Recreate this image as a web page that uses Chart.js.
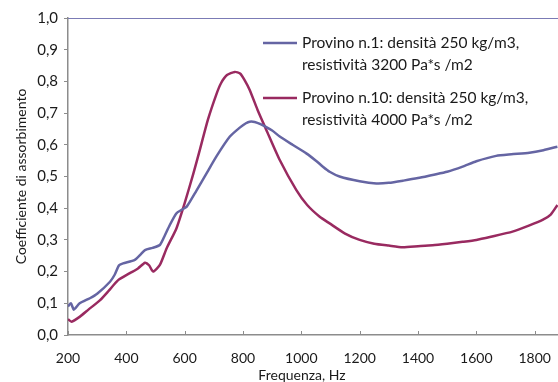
<!DOCTYPE html>
<html>
<head>
<meta charset="utf-8">
<script src="https://cdn.jsdelivr.net/npm/chart.js@4.4.1/dist/chart.umd.min.js"></script>
<style>
  html, body { margin: 0; padding: 0; background: #fff; }
</style>
</head>
<body>
<canvas id="chart" width="558" height="382"></canvas>
<script>
// Provino n.1 (blue)
const freq1 = [200, 210, 220, 240, 275, 300, 344, 360, 375, 389, 429, 450, 464, 490, 515, 530, 549, 572, 590, 607, 640, 675, 710, 755, 790, 810, 823, 840, 860, 900, 926, 970, 1017, 1050, 1074, 1097, 1131, 1200, 1257, 1300, 1350, 1400, 1450, 1500, 1553, 1600, 1668, 1720, 1782, 1830, 1878];
const provino1 = [0.09, 0.10, 0.08, 0.10, 0.116, 0.13, 0.168, 0.19, 0.22, 0.226, 0.237, 0.255, 0.268, 0.275, 0.284, 0.31, 0.347, 0.384, 0.395, 0.405, 0.455, 0.51, 0.565, 0.626, 0.655, 0.668, 0.673, 0.672, 0.665, 0.645, 0.626, 0.60, 0.573, 0.55, 0.531, 0.515, 0.50, 0.485, 0.478, 0.48, 0.487, 0.495, 0.505, 0.515, 0.531, 0.548, 0.565, 0.57, 0.575, 0.583, 0.594];

// Provino n.10 (red)
const freq10 = [200, 212, 241, 270, 310, 340, 372, 412, 440, 464, 478, 492, 515, 538, 572, 600, 630, 652, 680, 709, 725, 745, 772, 790, 805, 823, 850, 880, 926, 983, 1020, 1063, 1097, 1150, 1200, 1250, 1300, 1347, 1400, 1450, 1500, 1553, 1600, 1650, 1724, 1780, 1827, 1855, 1878];
const provino10 = [0.05, 0.042, 0.058, 0.08, 0.11, 0.14, 0.173, 0.195, 0.21, 0.228, 0.22, 0.20, 0.221, 0.273, 0.337, 0.416, 0.51, 0.584, 0.68, 0.76, 0.795, 0.82, 0.83, 0.825, 0.805, 0.773, 0.71, 0.647, 0.552, 0.457, 0.41, 0.373, 0.352, 0.32, 0.30, 0.288, 0.282, 0.277, 0.28, 0.283, 0.288, 0.294, 0.30, 0.31, 0.326, 0.345, 0.363, 0.38, 0.41];

const xTicks = [200, 400, 600, 800, 1000, 1200, 1400, 1600, 1800];

const legendLabels = [
  ["Provino n.1: densità 250 kg/m3,", "resistività 3200 Pa*s /m2"],
  ["Provino n.10: densità 250 kg/m3,", "resistività 4000 Pa*s /m2"]
];

const blue = "#6565a3";
const red = "#992a60";
const textColor = "#1a1a1a";
const axisColor = "#8c8c8c";

function toPoints(xs, ys) {
  return xs.map((x, i) => ({ x: x, y: ys[i] }));
}

// inward x tick marks, top border line, x title and the legend
const extras = {
  id: "extras",
  afterDraw(chart) {
    const ctx = chart.ctx;
    const area = chart.chartArea;
    const xs = chart.scales.x;
    ctx.save();
    ctx.strokeStyle = axisColor;
    ctx.lineWidth = 1;
    xs.ticks.forEach(t => {
      const px = Math.round(xs.getPixelForValue(t.value)) + 0.5;
      ctx.beginPath();
      ctx.moveTo(px, area.bottom);
      ctx.lineTo(px, area.bottom - 4);
      ctx.stroke();
    });
    // top border
    ctx.strokeStyle = "#7b7bb5";
    ctx.beginPath();
    ctx.moveTo(area.left, Math.round(area.top) + 0.5);
    ctx.lineTo(area.right, Math.round(area.top) + 0.5);
    ctx.stroke();

    // x title
    ctx.fillStyle = textColor;
    ctx.font = "14px Lato";
    ctx.textAlign = "center";
    ctx.textBaseline = "middle";
    ctx.fillText("Frequenza, Hz", 302, 375);

    // legend
    const colors = [blue, red];
    const rows = [43, 98];
    ctx.font = "15.5px Lato";
    ctx.textAlign = "left";
    legendLabels.forEach((lines, i) => {
      const y = rows[i];
      ctx.strokeStyle = colors[i];
      ctx.lineWidth = 2.5;
      ctx.beginPath();
      ctx.moveTo(263, y);
      ctx.lineTo(297, y);
      ctx.stroke();
      ctx.fillText(lines[0], 302, y);
      ctx.fillText(lines[1], 302, y + 22);
    });
    ctx.restore();
  }
};

new Chart(document.getElementById("chart"), {
  type: "line",
  data: {
    datasets: [
      {
        label: legendLabels[0].join(" "),
        data: toPoints(freq1, provino1),
        borderColor: blue,
        borderWidth: 2.5,
        pointRadius: 0,
        tension: 0.2
      },
      {
        label: legendLabels[1].join(" "),
        data: toPoints(freq10, provino10),
        borderColor: red,
        borderWidth: 2.5,
        pointRadius: 0,
        tension: 0.2
      }
    ]
  },
  options: {
    responsive: false,
    animation: false,
    devicePixelRatio: 1,
    layout: { padding: { top: 18, right: 0, left: 0, bottom: 0 } },
    plugins: {
      legend: { display: false },
      tooltip: { enabled: false }
    },
    scales: {
      x: {
        type: "linear",
        min: 200,
        max: 1880,
        afterFit(scale) { scale.height = 47; },
        afterBuildTicks(scale) { scale.ticks = xTicks.map(v => ({ value: v })); },
        grid: { display: false },
        border: { display: true, color: axisColor, width: 1.5 },
        ticks: {
          color: textColor,
          font: { family: "Lato", size: 14 },
          padding: 7,
          maxRotation: 0,
          autoSkip: false,
          callback: v => String(v)
        }
      },
      y: {
        min: 0,
        max: 1,
        afterFit(scale) { scale.width = 68; },
        grid: {
          drawOnChartArea: false,
          drawTicks: true,
          tickLength: 4,
          tickColor: axisColor
        },
        border: { display: true, color: axisColor, width: 1.5 },
        ticks: {
          stepSize: 0.1,
          color: textColor,
          font: { family: "Lato", size: 15 },
          padding: 6,
          callback: v => v.toFixed(1).replace(".", ",")
        },
        title: {
          display: true,
          text: "Coefficiente di assorbimento",
          color: textColor,
          font: { family: "Lato", size: 14 },
          padding: { top: 13, bottom: 0 }
        }
      }
    }
  },
  plugins: [extras]
});
</script>
</body>
</html>
